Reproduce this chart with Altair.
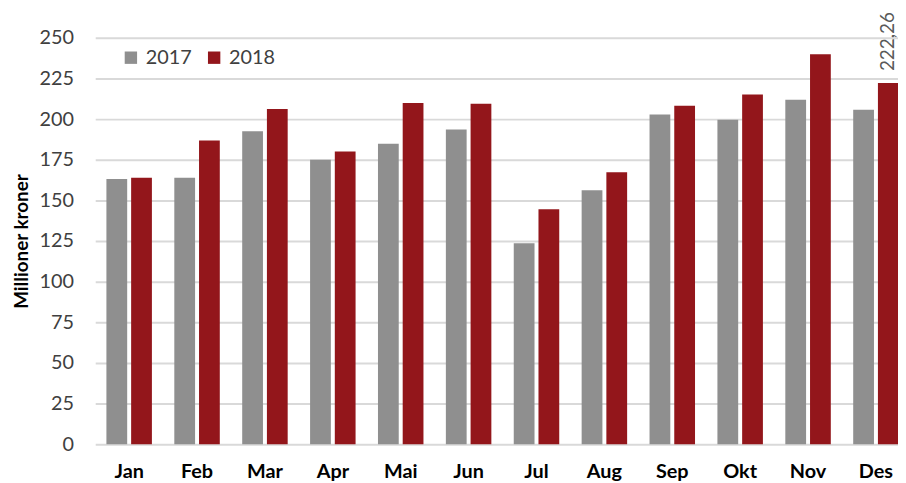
import altair as alt
import pandas as pd

months = ["Jan", "Feb", "Mar", "Apr", "Mai", "Jun", "Jul", "Aug", "Sep", "Okt", "Nov", "Des"]
years = ["2017", "2018"]
v2017 = [163.2, 164.0, 192.5, 175.0, 184.8, 193.7, 123.6, 156.3, 202.9, 199.6, 212.0, 205.7]
v2018 = [164.0, 186.8, 206.3, 180.1, 210.0, 209.4, 144.5, 167.3, 208.2, 215.2, 239.9, 222.26]
colors = ["#8f8f8f", "#93161b"]
y_ticks = [0, 25, 50, 75, 100, 125, 150, 175, 200, 225, 250]

rows = []
for i, m in enumerate(months):
    rows.append({"month": m, "year": "2017", "value": v2017[i]})
    rows.append({"month": m, "year": "2018", "value": v2018[i]})
df = pd.DataFrame(rows)
df["label"] = df["value"].map(lambda v: f"{v:.2f}".replace(".", ","))

FONT = "Lato"

x_enc = alt.X(
    "month:N",
    sort=months,
    scale=alt.Scale(range=[0, 822], paddingInner=0.33, paddingOuter=0.165),
    axis=alt.Axis(
        title=None, labelAngle=0, labelFont=FONT, labelFontSize=20, labelFontWeight="bold",
        labelColor="#000000", labelPadding=18, ticks=False, domain=False, grid=False,
        labelBaseline="top",
    ),
)
xo_enc = alt.XOffset("year:N", sort=years, scale=alt.Scale(paddingInner=0.16, paddingOuter=0))
y_enc = alt.Y(
    "value:Q",
    scale=alt.Scale(domain=[0, 250], nice=False),
    axis=alt.Axis(
        title="Millioner kroner", values=y_ticks, labelFont=FONT, labelFontSize=20,
        labelColor="#404040", labelPadding=22, ticks=False, domain=False,
        grid=True, gridColor="#d9d9d9", gridWidth=2,
        titleFont=FONT, titleFontSize=19, titleFontWeight="bold", titleColor="#000000",
        titleX=-74, titleY=205, titleAlign="center", titleBaseline="middle", titleAngle=270,
    ),
)

bars = alt.Chart(df).mark_bar().encode(
    x=x_enc,
    xOffset=xo_enc,
    y=y_enc,
    color=alt.Color(
        "year:N", sort=years, scale=alt.Scale(domain=years, range=colors),
        legend=alt.Legend(
            title=None, orient="none", legendX=26, legendY=10, direction="horizontal",
            symbolType="square", symbolSize=156, symbolStrokeWidth=0,
            labelFont=FONT, labelFontSize=20, labelColor="#404040",
            labelOffset=5, columnPadding=12, padding=0,
        ),
    ),
)

label = alt.Chart(df).transform_filter(
    (alt.datum.month == "Des") & (alt.datum.year == "2018")
).mark_text(
    angle=270, align="left", baseline="middle", dx=12, font=FONT, fontSize=19, color="#595959"
).encode(
    x=alt.X("month:N", sort=months),
    xOffset=alt.XOffset("year:N", sort=years),
    y="value:Q",
    text="label:N",
)

chart = alt.layer(bars, label).properties(
    width=810,
    height=410,
    padding={"left": 88, "top": 28, "right": 0, "bottom": 37},
    autosize=alt.AutoSizeParams(type="none"),
).configure_view(stroke=None)

chart.save("out.html", embed_options={"renderer": "svg", "actions": False})
